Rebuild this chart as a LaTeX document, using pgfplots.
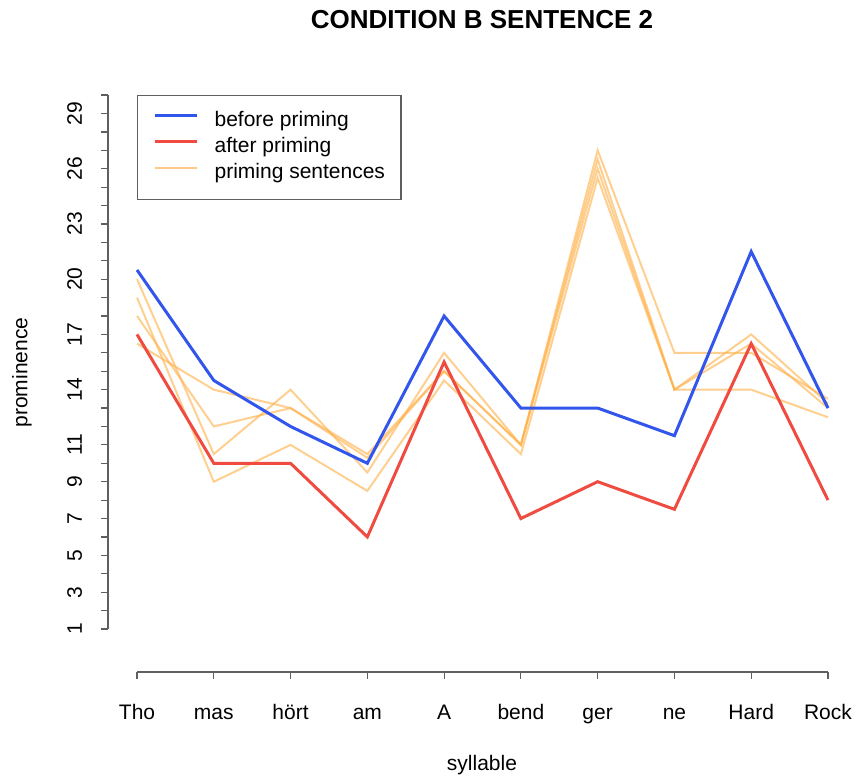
\documentclass[border=0pt]{standalone}
\usepackage{fontspec}
\setmainfont{Liberation Sans}
\usepackage{pgfplots}
\pgfplotsset{compat=1.18}
\definecolor{rblue}{RGB}{50,85,235}
\definecolor{rred}{RGB}{240,75,65}
\definecolor{rorange}{RGB}{255,175,70}
\definecolor{axgray}{RGB}{95,95,95}
\begin{document}
\begin{tikzpicture}
\begin{axis}[
  scale only axis, width=748pt, height=599pt,
  xmin=0.622, xmax=10.365, ymin=-1.336, ymax=31.2,
  axis lines*=left, axis line style={draw=none},
  clip=false,
  xtick={1,...,10}, xticklabels={Tho,mas,hört,am,A,bend,ger,ne,Hard,Rock},
  ytick={1,...,30},
  yticklabels={1,,3,,5,,7,,9,,11,,,14,,,17,,,20,,,23,,,26,,,29,},
  tick align=outside, major tick length=7pt,
  tick style={axgray, line width=1.2pt},
  font=\fontsize{21}{25}\selectfont,
  /pgf/number format/assume math mode=true,
  xticklabel style={anchor=base, yshift=-41pt},
  yticklabel style={xshift=-19pt, rotate=90, anchor=base},
  title={CONDITION B SENTENCE 2},
  title style={font=\fontsize{26}{30}\selectfont\bfseries, at={(axis description cs:0.5,1)}, anchor=center, yshift=47pt},
  xlabel={syllable},
  xlabel style={at={(axis description cs:0.5,0)}, anchor=center, yshift=-93pt},
  ylabel={prominence},
  ylabel style={at={([xshift=-86pt]axis description cs:0,0.5)}, anchor=center},
  legend style={at={(axis cs:1,30.0)}, anchor=north west, draw=axgray, line width=1.2pt,
    inner xsep=16pt, inner ysep=16pt, row sep=6pt, column sep=16pt,
    font=\fontsize{21}{25}\selectfont,
    nodes={inner sep=0pt, text height=15pt, text depth=5pt}},
  legend cell align=left,
  legend image code/.code={\draw[#1] (0pt,6pt) -- (42pt,6pt);},
]
\addlegendimage{rblue, line width=3pt}
\addlegendentry{before priming}
\addlegendimage{rred, line width=3pt}
\addlegendentry{after priming}
\addlegendimage{rorange, draw opacity=0.65, line width=2pt}
\addlegendentry{priming sentences}

\addplot[rorange, draw opacity=0.6, line width=2pt, forget plot] coordinates {
(1,20) (2,10.5) (3,14) (4,9.5) (5,16) (6,11) (7,27) (8,16) (9,16) (10,13.5)};
\addplot[rorange, draw opacity=0.6, line width=2pt, forget plot] coordinates {
(1,19) (2,9) (3,11) (4,8.5) (5,14.5) (6,10.5) (7,25.5) (8,14) (9,14) (10,12.5)};
\addplot[rorange, draw opacity=0.6, line width=2pt, forget plot] coordinates {
(1,18) (2,12) (3,13) (4,10.5) (5,15) (6,11) (7,26.5) (8,14) (9,17) (10,13.25)};
\addplot[rorange, draw opacity=0.6, line width=2pt, forget plot] coordinates {
(1,16.5) (2,14) (3,13) (4,10.3) (5,15) (6,11) (7,26) (8,14) (9,16.5) (10,13)};

\addplot[rblue, line width=3pt, forget plot] coordinates {
(1,20.5) (2,14.5) (3,12) (4,10) (5,18) (6,13) (7,13) (8,11.5) (9,21.5) (10,13)};
\addplot[rred, line width=3pt, forget plot] coordinates {
(1,17) (2,10) (3,10) (4,6) (5,15.5) (6,7) (7,9) (8,7.5) (9,16.5) (10,8)};

\draw[axgray, line width=1.2pt] (axis cs:1,-1.336) -- (axis cs:10,-1.336);
\draw[axgray, line width=1.2pt] (axis cs:0.622,1) -- (axis cs:0.622,30);
\coordinate (sw) at (rel axis cs:0,0);
\end{axis}
\pgfresetboundingbox
\path (sw) ++(-108pt,-106pt) rectangle ++(857pt,778pt);
\end{tikzpicture}
\end{document}
